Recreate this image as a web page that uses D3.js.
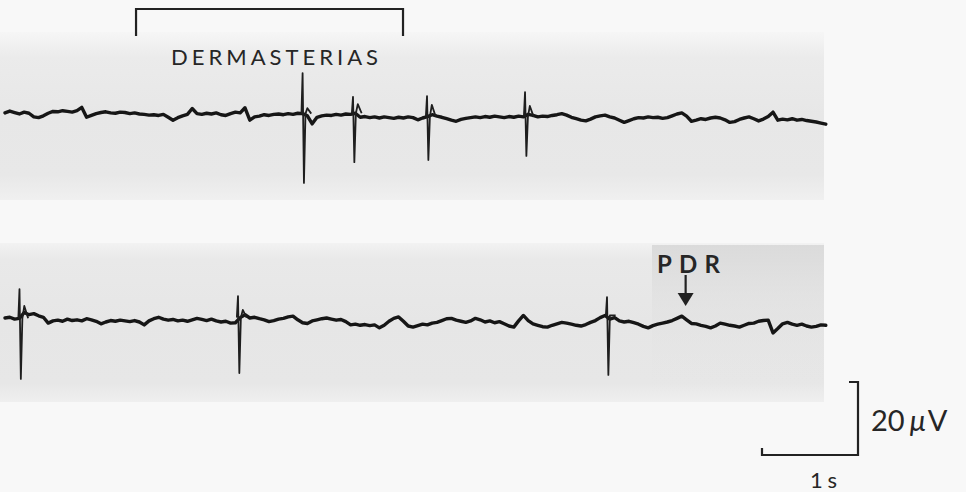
<!DOCTYPE html>
<html>
<head>
<meta charset="utf-8">
<script src="https://cdn.jsdelivr.net/npm/d3@7"></script>
<style>
  body { margin: 0; background: #f8f8f8; }
  svg { display: block; }
  .trace { fill: none; stroke: #161616; stroke-width: 3.4; stroke-linejoin: round; stroke-linecap: round; }
  .spike { fill: none; stroke: #1e1e1e; stroke-width: 1.8; stroke-linejoin: round; }
  .mark { fill: none; stroke: #222; stroke-width: 2.2; }
  text { font-family: Lato, "Open Sans", sans-serif; fill: #262626; }
</style>
</head>
<body>
<script>
// sample step of the traces, seconds
var step = 0.05;

// upper record (µV, one value every 50 ms)
var topTrace = [
  1.4, 1.9, 1.5, 1.1, 1.6, 1.3, 0.3, 0.1, 0.6, 1.3,
  1.8, 1.7, 2.0, 1.8, 1.6, 2.0, 2.9, 0.2, 0.7, 1.2,
  1.5, 1.7, 1.4, 1.3, 1.6, 1.5, 1.2, 1.4, 1.1, 1.0,
  0.8, 0.9, 0.7, 1.0, 0.2, -0.6, 0.1, 0.6, 1.0, 2.6,
  1.2, 1.0, 1.3, 1.1, 1.4, 0.9, 0.7, 1.2, 1.6, 1.4,
  2.8, -0.6, 0.3, 0.5, 0.9, 0.7, 1.0, 1.1, 0.9, 1.2,
  1.0, 1.3, 1.2, 0.6, -1.6, 0.2, 0.6, 0.8, 0.7, 1.0,
  0.8, 1.1, 1.0, 1.3, 0.2, 0.4, 0.1, 0.3, 0.0, 0.3,
  0.1, -0.1, 0.2, 0.0, 0.3, 0.1, -0.5, 0.0, 0.4, 0.9,
  0.5, 0.2, -0.2, -0.6, -0.9, -0.4, -0.1, 0.1, 0.3, 0.1,
  0.4, 0.2, 0.5, 0.3, 0.1, 0.4, 0.2, 0.5, 0.3, 1.0,
  0.7, 0.3, 0.5, 0.4, 0.7, 0.9, 1.2, 0.8, 0.2, -0.2,
  -0.6, -0.8, -0.3, 0.3, 0.6, 0.8, 0.3, 0.0, -0.6, -1.2,
  -0.7, -0.2, 0.1, 0.0, 0.3, 0.1, 0.2, -0.1, 0.1, 0.6,
  1.1, 1.4, 0.5, -0.9, -0.6, -0.2, -0.4, 0.0, 0.2, 0.0,
  -0.5, -1.2, -1.0, -0.4, 0.0, 0.3, -0.2, -0.8, -0.3, 0.4,
  1.6, -0.6, -0.3, -0.5, -0.2, -0.6, -0.4, -0.7, -0.9, -1.1,
  -1.4, -1.7
];

// lower record (µV, one value every 50 ms)
var bottomTrace = [
  1.1, 1.3, 0.8, 1.0, 2.6, 2.0, 2.3, 1.7, 1.3, -0.3,
  0.3, 0.5, 0.2, 0.8, 0.4, 0.6, 0.3, 0.9, 0.6, 0.2,
  -0.5, 0.0, 0.4, 0.2, 0.5, 0.3, 0.1, 0.4, 0.0, -0.8,
  0.3, 0.9, 1.3, 0.8, 0.5, 0.7, 0.3, 0.5, 0.2, 0.6,
  1.0, 0.7, 0.4, 0.8, 0.3, 0.0, 0.2, -0.3, -0.2, 1.2,
  2.0, 1.1, 1.3, 0.9, 0.6, 0.1, 0.4, 0.8, 1.0, 1.4,
  1.6, 0.6, -0.2, -0.4, 0.3, 0.6, 0.9, 1.1, 0.8, 0.5,
  0.7, 0.1, -0.8, -0.6, -0.9, -0.7, -1.0, -0.8, -1.6, -0.9,
  0.2, 1.0, 1.4, 0.2, -1.1, -1.4, -1.0, -0.6, -0.8, -0.3,
  -0.1, 0.4, 0.9, 1.0, 0.5, 0.2, -0.1, 0.3, 1.0, 0.6,
  0.0, 0.3, -0.2, 0.1, -0.5, -1.1, -1.4, 0.3, 1.8, 0.4,
  -0.5, -0.9, -1.3, -1.4, -0.9, -0.5, -0.1, -0.3, -0.6, -0.9,
  -1.1, -0.7, -0.1, 0.4, 1.2, 1.8, 0.8, 1.2, 0.3, 0.0,
  0.2, -0.2, -0.6, -1.2, -1.6, -1.0, -0.6, -0.3, 0.0, 0.4,
  1.0, 1.6, 0.6, -0.4, -0.5, -0.9, -1.2, -1.6, -1.1, -0.3,
  -0.6, -0.9, -1.1, -1.4, -0.9, -0.4, -0.3, 0.2, 0.4, 0.5,
  -3.0, -1.8, -0.5, -0.1, -0.6, -0.9, -0.6, -1.1, -1.4, -1.2,
  -0.8, -0.9
];

// spikes: time (s), positive peak, negative peak, after-wave (µV)
var topSpikes = [
  { t: 3.10,  up: 12.3, down: -17.8, after: 2.7 },
  { t: 3.625, up: 5.8,  down: -12.1, after: 3.8 },
  { t: 4.396, up: 6.0,  down: -11.5, after: 3.6 },
  { t: 5.417, up: 7.1,  down: -10.4, after: 3.3 }
];
var bottomSpikes = [
  { t: 0.151, up: 9.0, down: -15.6, after: 4.4 },
  { t: 2.427, up: 7.1, down: -14.0, after: 3.3 },
  { t: 6.271, up: 6.8, down: -14.5, after: 1.8 }
];

// annotations
var dermPeriod = [1.365, 4.146];   // bracket, s
var pdrTime = 7.09;                // arrow, s
var scaleTime = 1;                 // s
var scaleVolt = 20;                // µV
var dermLabel = "DERMASTERIAS";
var pdrLabel = "PDR";
var timeLabel = "1s";

var width = 966, height = 492;

var svg = d3.select("body").append("svg")
    .attr("width", width)
    .attr("height", height);

// photographic background of the two records
var defs = svg.append("defs");
function grad(id, stops) {
    var g = defs.append("linearGradient").attr("id", id)
        .attr("x1", 0).attr("y1", 0).attr("x2", 0).attr("y2", 1);
    stops.forEach(function (s) {
        g.append("stop").attr("offset", s[0]).attr("stop-color", s[1])
            .attr("stop-opacity", s[2] === undefined ? 1 : s[2]);
    });
}
grad("gTop", [[0, "#f6f6f6"], [0.15, "#ebebeb"], [0.5, "#e7e7e7"], [0.85, "#e8e8e8"], [1, "#f0f0f0"]]);
grad("gBot", [[0, "#f2f2f2"], [0.1, "#e9e9e9"], [0.5, "#e6e6e6"], [0.88, "#e7e7e7"], [1, "#efefef"]]);
grad("gDark", [[0, "#d8d8d8", 0.9], [0.35, "#dedede", 0.5], [1, "#e6e6e6", 0]]);

svg.append("rect").attr("width", width).attr("height", height).attr("fill", "#f8f8f8");
svg.append("rect").attr("x", 0).attr("y", 32).attr("width", 824).attr("height", 168).attr("fill", "url(#gTop)");
svg.append("rect").attr("x", 0).attr("y", 243).attr("width", 824).attr("height", 159).attr("fill", "url(#gBot)");
svg.append("rect").attr("x", 652).attr("y", 245).attr("width", 172).attr("height", 150).attr("fill", "url(#gDark)");

// scales
var x = d3.scaleLinear().domain([0, 8.55]).range([5, 825.8]);
var yTop = d3.scaleLinear().domain([-10, 10]).range([118 + 36.5, 118 - 36.5]);
var yBot = d3.scaleLinear().domain([-10, 10]).range([322 + 36.5, 322 - 36.5]);

function drawRecord(values, spikes, y) {
    var line = d3.line()
        .x(function (d, i) { return x(i * step); })
        .y(function (d) { return y(d); });
    svg.append("path").datum(values).attr("class", "trace").attr("d", line);

    var sline = d3.line()
        .x(function (d) { return x(d[0]); })
        .y(function (d) { return y(d[1]); });
    spikes.forEach(function (s) {
        var base = values[Math.round(s.t / step)];
        var pts = [
            [s.t - 0.012, base], [s.t, s.up], [s.t + 0.014, s.down],
            [s.t + 0.03, base], [s.t + 0.05, s.after], [s.t + 0.09, base]
        ];
        svg.append("path").datum(pts).attr("class", "spike").attr("d", sline);
    });
}
drawRecord(topTrace, topSpikes, yTop);
drawRecord(bottomTrace, bottomSpikes, yBot);

// stimulation bracket
var bx0 = x(dermPeriod[0]), bx1 = x(dermPeriod[1]);
svg.append("path").attr("class", "mark")
    .attr("d", "M" + bx0 + ",36V9H" + bx1 + "V36");
svg.append("text")
    .attr("x", 171).attr("y", 65)
    .attr("font-size", 22)
    .attr("textLength", 207).attr("lengthAdjust", "spacing")
    .text(dermLabel);

// PDR arrow
var ax = x(pdrTime);
svg.append("line").attr("class", "mark")
    .attr("x1", ax).attr("x2", ax).attr("y1", 275).attr("y2", 295);
svg.append("path")
    .attr("d", "M" + (ax - 8) + ",293L" + (ax + 8) + ",293L" + ax + ",306Z")
    .attr("fill", "#222");
svg.append("text")
    .attr("x", 657).attr("y", 273)
    .attr("font-size", 24).attr("font-weight", "bold")
    .attr("textLength", 63).attr("lengthAdjust", "spacing")
    .text(pdrLabel);

// calibration
var barW = x(scaleTime) - x(0);
var barH = yBot(0) - yBot(scaleVolt);
var cx = 858, cy = 455;
svg.append("path").attr("class", "mark")
    .attr("d", "M" + (cx - barW) + "," + (cy - 7) + "V" + cy + "H" + cx + "V" + (cy - barH) + "H" + (cx - 9));
var vt = svg.append("text")
    .attr("x", 871).attr("y", 431)
    .attr("font-size", 29);
vt.append("tspan").text(scaleVolt);
vt.append("tspan").attr("dx", 5).attr("font-style", "italic").text("\u03bc");
vt.append("tspan").attr("dx", 2).text("V");
svg.append("text")
    .attr("x", 810).attr("y", 488)
    .attr("font-size", 22)
    .attr("textLength", 27).attr("lengthAdjust", "spacing")
    .text(timeLabel);
</script>
</body>
</html>
